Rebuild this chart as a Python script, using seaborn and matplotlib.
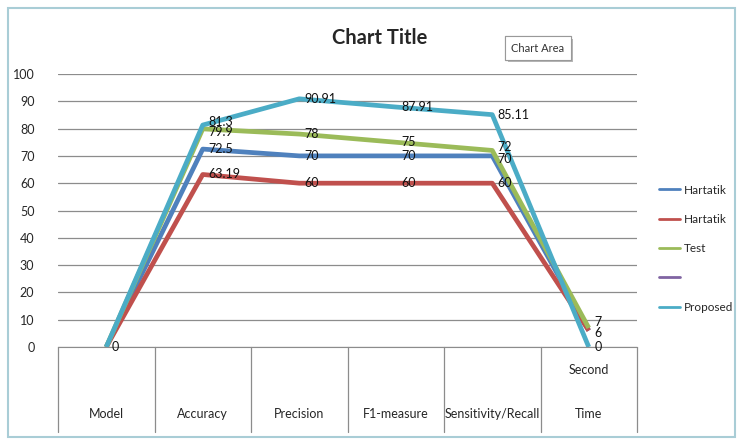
import matplotlib
matplotlib.use("Agg")
import matplotlib.pyplot as plt
import seaborn as sns
import pandas as pd
from matplotlib.lines import Line2D
from matplotlib.patches import Rectangle
import matplotlib.patheffects as pe

categories = ["Model", "Accuracy", "Precision", "F1-measure", "Sensitivity/Recall", "Time"]
sub_labels = ["", "", "", "", "", "Second"]
series_names = ["Hartatik", "Hartatik", "Test", "", "Proposed"]
hartatik1 = [0, 72.5, 70, 70, 70, 6]
hartatik2 = [0, 63.19, 60, 60, 60, 6]
test = [0, 79.9, 78, 75, 72, 7]
empty = [None] * 6
proposed = [0, 81.3, 90.91, 87.91, 85.11, 0]
colors = ["#4F81BD", "#C0504D", "#9BBB59", "#8064A2", "#4BACC6"]

all_series = [hartatik1, hartatik2, test, empty, proposed]
rows = []
for sid, vals in enumerate(all_series):
    for i, v in enumerate(vals):
        if v is not None:
            rows.append({"sid": sid, "x": i, "y": v})
df = pd.DataFrame(rows)

sns.set_style("white")
plt.rcParams["font.family"] = ["Lato", "DejaVu Sans"]

fig = plt.figure(figsize=(7.39, 4.43), dpi=100)
ax = fig.add_axes([58/739, 1-347/443, (637-58)/739, (347-74)/443])

palette = {i: colors[i] for i in range(5)}
sns.lineplot(data=df, x="x", y="y", hue="sid", palette=palette, lw=3.4,
             legend=False, ax=ax, sort=False, solid_capstyle="butt")

ax.set_xlim(-0.5, 5.5)
ax.set_ylim(0, 100)
ax.set_yticks(range(0, 101, 10))
ax.tick_params(axis="y", labelsize=9, length=0, pad=17)
ax.set_xticks([])
ax.set_xlabel("")
ax.set_ylabel("")
ax.grid(axis="y", color="#8c8c8c", lw=0.9)
ax.set_axisbelow(True)
for s in ["top", "right", "left"]:
    ax.spines[s].set_visible(False)
ax.spines["bottom"].set_color("#8c8c8c")

# data labels (small vertical nudges where the reference labels pile up)
nudges = {(4, 1): 2.5, (2, 1): -2.5, (2, 4): 2.5, (0, 4): -2.5,
          (2, 5): 4.5, (0, 5): -2.0}
for sid, vals in enumerate(all_series):
    for i, v in enumerate(vals):
        if v is None:
            continue
        if (sid, i) in ((1, 5),) or (i == 0 and sid != 0):
            continue  # identical label drawn at the same spot
        txt = "%g" % v
        ax.annotate(txt, (i, v), xytext=(4, nudges.get((sid, i), 0)),
                    textcoords="offset points",
                    va="center", ha="left", fontsize=9, color="#111111")

# multi-level category axis
trans = ax.get_xaxis_transform()
for k in range(len(categories) + 1):
    ax.plot([k - 0.5, k - 0.5], [0, -0.31], transform=trans, color="#8c8c8c",
            lw=0.9, clip_on=False)
for i, c in enumerate(categories):
    ax.text(i, -0.245, c, transform=trans, ha="center", va="center", fontsize=9)
    if sub_labels[i]:
        ax.text(i, -0.085, sub_labels[i], transform=trans, ha="center",
                va="center", fontsize=9)

# legend
handles = [Line2D([0], [0], color=colors[i], lw=2) for i in range(5)]
ax.legend(handles, series_names, loc="center left", bbox_to_anchor=(1.02, 0.36),
          frameon=False, fontsize=8.5, handlelength=1.8, handletextpad=0.3,
          labelspacing=1.55)

fig.text(380/739, 1-38/443, "Chart Title", ha="center", va="center",
         fontsize=14.5, fontweight="bold")
fig.text(538/739, 1-48/443, "Chart Area", ha="center", va="center", fontsize=8,
         color="#333333",
         bbox=dict(boxstyle="square,pad=0.55", fc="white", ec="#999999", lw=0.8,
                   path_effects=[pe.withSimplePatchShadow(offset=(2, -2),
                                                          shadow_rgbFace="#888888",
                                                          alpha=0.6),
                                 pe.Normal()]))

fig.patches.append(Rectangle((8/739, 6/443), 727/739, 429/443, transform=fig.transFigure,
                             fill=False, ec="#a9cdd6", lw=1.5))

fig.savefig("out.png", dpi=100)
